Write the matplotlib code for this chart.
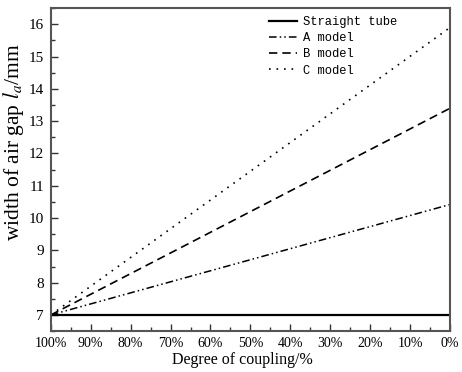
import matplotlib.pyplot as plt
from matplotlib.ticker import MultipleLocator, FuncFormatter

plt.rcParams['mathtext.fontset'] = 'stix'

# degree of coupling (%) and air gap width (mm)
coupling = [100, 0]
straight_tube = [7.0, 7.0]
a_model = [7.0, 10.42]
b_model = [7.0, 13.4]
c_model = [7.0, 15.9]

fig = plt.figure(figsize=(4.62, 3.72), dpi=100)
ax = fig.add_axes([0.110, 0.110, 0.864, 0.868])

ax.plot(coupling, straight_tube, color='black', lw=1.6, label='Straight tube')
ax.plot(coupling, a_model, color='black', lw=1.1, dashes=(5, 2, 1, 2, 1, 2), label='A model')
ax.plot(coupling, b_model, color='black', lw=1.2, dashes=(5, 3), label='B model')
ax.plot(coupling, c_model, color='black', lw=1.2, dashes=(1, 3.5), label='C model')

ax.set_xlim(100, 0)
ax.set_ylim(6.5, 16.5)
ax.xaxis.set_major_locator(MultipleLocator(10))
ax.xaxis.set_minor_locator(MultipleLocator(5))
ax.yaxis.set_major_locator(MultipleLocator(1))
ax.yaxis.set_minor_locator(MultipleLocator(0.5))
ax.xaxis.set_major_formatter(FuncFormatter(lambda v, p: f"{int(round(v))}%"))

ax.tick_params(which='both', direction='in', top=False, right=False, color='#333333')
ax.tick_params(axis='x', labelsize=10, pad=4)
ax.tick_params(axis='y', labelsize=11, pad=5)
ax.tick_params(which='major', length=5, width=1)
ax.tick_params(which='minor', length=3, width=1)
for lab in ax.get_xticklabels() + ax.get_yticklabels():
    lab.set_family('Liberation Serif')

for s in ax.spines.values():
    s.set_linewidth(1.5)
    s.set_color('#555555')

ax.set_xlabel("Degree of coupling/%", family='Liberation Serif', fontsize=11.5)
ax.xaxis.set_label_coords(0.479, -0.066)
ax.set_ylabel("width of air gap $l_a$/mm", family='Liberation Serif', fontsize=15.5)
ax.yaxis.set_label_coords(-0.062, 0.585)

leg = ax.legend(loc='upper left', bbox_to_anchor=(0.52, 1.01), frameon=False,
                prop={'family': 'Liberation Mono', 'size': 8.7},
                handlelength=2.3, handletextpad=0.5, labelspacing=0.35)

fig.savefig("out.png", dpi=100)
